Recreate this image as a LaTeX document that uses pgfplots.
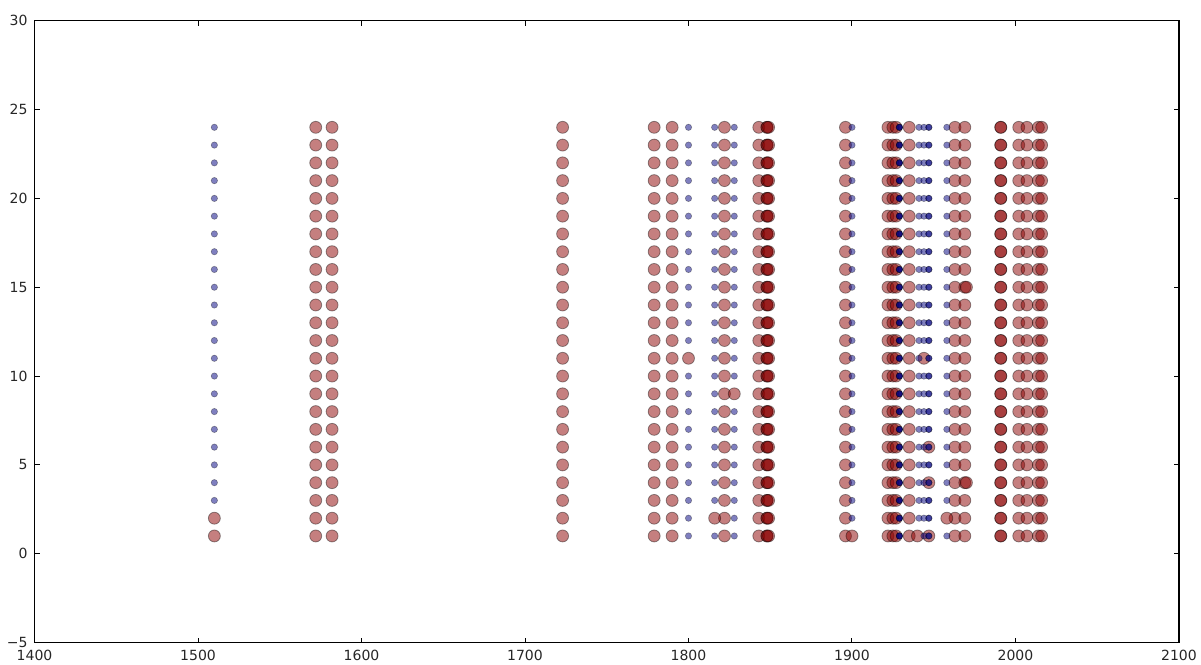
\documentclass[border=0pt]{standalone}
\usepackage{pgfplots}
\pgfplotsset{compat=1.18}
\usepackage{pgfplotstable}
\usepackage{fontspec}
\setmainfont{DejaVu Sans}
\definecolor{mdarkred}{RGB}{139,0,0}
\definecolor{mnavy}{RGB}{0,0,128}

% red (large) columns: one row per y, one column per x position
\pgfplotstableread{
y c1 c2 c3 c4 c5 c6 c7 c8 c9 c10 c11 c12 c13 c14 c15 c16 c17 c18 c19 c20 c21 c22 c23
1 1572 1582 1723 1779 1790 1822 1843 1848 1848 1849 1896 1922 1925 1927 1935 1963 1969 1991 1991 2002 2007 2014 2016
2 1572 1582 1723 1779 1790 1822 1843 1848 1848 1849 1896 1922 1925 1927 1935 1963 1969 1991 1991 2002 2007 2014 2016
3 1572 1582 1723 1779 1790 1822 1843 1848 1848 1849 1896 1922 1925 1927 1935 1963 1969 1991 1991 2002 2007 2014 2016
4 1572 1582 1723 1779 1790 1822 1843 1848 1848 1849 1896 1922 1925 1927 1935 1963 1969 1991 1991 2002 2007 2014 2016
5 1572 1582 1723 1779 1790 1822 1843 1848 1848 1849 1896 1922 1925 1927 1935 1963 1969 1991 1991 2002 2007 2014 2016
6 1572 1582 1723 1779 1790 1822 1843 1848 1848 1849 1896 1922 1925 1927 1935 1963 1969 1991 1991 2002 2007 2014 2016
7 1572 1582 1723 1779 1790 1822 1843 1848 1848 1849 1896 1922 1925 1927 1935 1963 1969 1991 1991 2002 2007 2014 2016
8 1572 1582 1723 1779 1790 1822 1843 1848 1848 1849 1896 1922 1925 1927 1935 1963 1969 1991 1991 2002 2007 2014 2016
9 1572 1582 1723 1779 1790 1822 1843 1848 1848 1849 1896 1922 1925 1927 1935 1963 1969 1991 1991 2002 2007 2014 2016
10 1572 1582 1723 1779 1790 1822 1843 1848 1848 1849 1896 1922 1925 1927 1935 1963 1969 1991 1991 2002 2007 2014 2016
11 1572 1582 1723 1779 1790 1822 1843 1848 1848 1849 1896 1922 1925 1927 1935 1963 1969 1991 1991 2002 2007 2014 2016
12 1572 1582 1723 1779 1790 1822 1843 1848 1848 1849 1896 1922 1925 1927 1935 1963 1969 1991 1991 2002 2007 2014 2016
13 1572 1582 1723 1779 1790 1822 1843 1848 1848 1849 1896 1922 1925 1927 1935 1963 1969 1991 1991 2002 2007 2014 2016
14 1572 1582 1723 1779 1790 1822 1843 1848 1848 1849 1896 1922 1925 1927 1935 1963 1969 1991 1991 2002 2007 2014 2016
15 1572 1582 1723 1779 1790 1822 1843 1848 1848 1849 1896 1922 1925 1927 1935 1963 1969 1991 1991 2002 2007 2014 2016
16 1572 1582 1723 1779 1790 1822 1843 1848 1848 1849 1896 1922 1925 1927 1935 1963 1969 1991 1991 2002 2007 2014 2016
17 1572 1582 1723 1779 1790 1822 1843 1848 1848 1849 1896 1922 1925 1927 1935 1963 1969 1991 1991 2002 2007 2014 2016
18 1572 1582 1723 1779 1790 1822 1843 1848 1848 1849 1896 1922 1925 1927 1935 1963 1969 1991 1991 2002 2007 2014 2016
19 1572 1582 1723 1779 1790 1822 1843 1848 1848 1849 1896 1922 1925 1927 1935 1963 1969 1991 1991 2002 2007 2014 2016
20 1572 1582 1723 1779 1790 1822 1843 1848 1848 1849 1896 1922 1925 1927 1935 1963 1969 1991 1991 2002 2007 2014 2016
21 1572 1582 1723 1779 1790 1822 1843 1848 1848 1849 1896 1922 1925 1927 1935 1963 1969 1991 1991 2002 2007 2014 2016
22 1572 1582 1723 1779 1790 1822 1843 1848 1848 1849 1896 1922 1925 1927 1935 1963 1969 1991 1991 2002 2007 2014 2016
23 1572 1582 1723 1779 1790 1822 1843 1848 1848 1849 1896 1922 1925 1927 1935 1963 1969 1991 1991 2002 2007 2014 2016
24 1572 1582 1723 1779 1790 1822 1843 1848 1848 1849 1896 1922 1925 1927 1935 1963 1969 1991 1991 2002 2007 2014 2016
}\redtab

% blue (small) columns
\pgfplotstableread{
y b1 b2 b3 b4 b5 b6 b7 b8 b9 b10 b11 b12 b13
1 nan 1800 1816 1828 nan 1929 1929 1929 nan 1944 1947 1947 1958
2 nan 1800 nan 1828 1900 1929 1929 1929 1941 1944 1947 1947 nan
3 1510 1800 1816 1828 1900 1929 1929 1929 1941 1944 1947 1947 1958
4 1510 1800 1816 1828 1900 1929 1929 1929 1941 1944 1947 1947 1958
5 1510 1800 1816 1828 1900 1929 1929 1929 1941 1944 1947 1947 1958
6 1510 1800 1816 1828 1900 1929 1929 1929 1941 1944 1947 1947 1958
7 1510 1800 1816 1828 1900 1929 1929 1929 1941 1944 1947 1947 1958
8 1510 1800 1816 1828 1900 1929 1929 1929 1941 1944 1947 1947 1958
9 1510 1800 1816 nan 1900 1929 1929 1929 1941 1944 1947 1947 1958
10 1510 1800 1816 1828 1900 1929 1929 1929 1941 1944 1947 1947 1958
11 1510 nan 1816 1828 1900 1929 1929 1929 1941 nan 1947 1947 1958
12 1510 1800 1816 1828 1900 1929 1929 1929 1941 1944 1947 1947 1958
13 1510 1800 1816 1828 1900 1929 1929 1929 1941 1944 1947 1947 1958
14 1510 1800 1816 1828 1900 1929 1929 1929 1941 1944 1947 1947 1958
15 1510 1800 1816 1828 1900 1929 1929 1929 1941 1944 1947 1947 1958
16 1510 1800 1816 1828 1900 1929 1929 1929 1941 1944 1947 1947 1958
17 1510 1800 1816 1828 1900 1929 1929 1929 1941 1944 1947 1947 1958
18 1510 1800 1816 1828 1900 1929 1929 1929 1941 1944 1947 1947 1958
19 1510 1800 1816 1828 1900 1929 1929 1929 1941 1944 1947 1947 1958
20 1510 1800 1816 1828 1900 1929 1929 1929 1941 1944 1947 1947 1958
21 1510 1800 1816 1828 1900 1929 1929 1929 1941 1944 1947 1947 1958
22 1510 1800 1816 1828 1900 1929 1929 1929 1941 1944 1947 1947 1958
23 1510 1800 1816 1828 1900 1929 1929 1929 1941 1944 1947 1947 1958
24 1510 1800 1816 1828 1900 1929 1929 1929 1941 1944 1947 1947 1958
}\bluetab

\pgfplotsset{
  R/.style={only marks, mark=*, mark size=3pt,
    mark options={fill=mdarkred, fill opacity=0.5, draw=black, draw opacity=0.4, line width=0.4pt}},
  B/.style={only marks, mark=*, mark size=1.6pt,
    mark options={fill=mnavy, fill opacity=0.5, draw=black, draw opacity=0.35, line width=0.3pt}},
}

\begin{document}
\begin{tikzpicture}
\path[use as bounding box] (-17.25pt,-10.85pt) rectangle (583pt,321.15pt);
\begin{axis}[
  at={(0,0)}, anchor=south west,
  scale only axis, width=572pt, height=310.8pt,
  xmin=1400, xmax=2100, ymin=-5, ymax=30,
  xtick={1400,1500,1600,1700,1800,1900,2000,2100},
  xticklabels={1400,1500,1600,1700,1800,1900,2000,2100},
  ytick={-5,0,5,10,15,20,25,30},
  yticklabels={−5,0,5,10,15,20,25,30},
  tick align=inside,
  major tick length=2.5pt,
  tick style={black, line width=0.5pt},
  axis line style={black, line width=0.6pt},
  tick label style={font=\fontsize{7}{8}\selectfont, text=black!85},
  /pgf/number format/assume math mode=true,
  clip=false,
]
\pgfplotsinvokeforeach{1,...,23}{
  \addplot[R] table[x=c#1, y=y]{\redtab};
}
\addplot[R] coordinates {(1510,1)(1510,2)(1800,11)(1816,2)(1828,9)(1900,1)(1940,1)(1944,11)(1947,1)(1947,4)(1947,6)(1958,2)(1970,4)(1970,15)};
\pgfplotsinvokeforeach{1,...,13}{
  \addplot[B] table[x=b#1, y=y]{\bluetab};
}
\end{axis}
\end{tikzpicture}
\end{document}
